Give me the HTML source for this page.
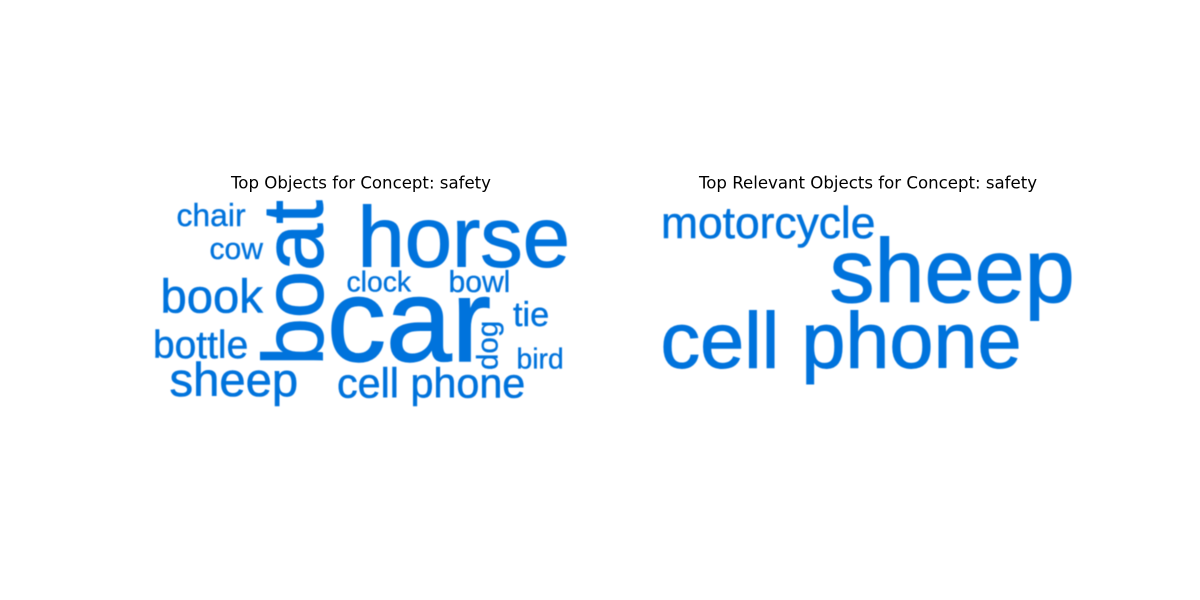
<!DOCTYPE html>
<html lang="en">
<head>
<meta charset="utf-8">
<title>Top Objects for Concept: safety</title>
<style>
html,body{margin:0;padding:0;background:#fff;}
svg{display:block;}
.title{font-family:"DejaVu Sans",sans-serif;font-size:16.6px;fill:#000;text-anchor:middle;}
.word{font-family:"Liberation Sans",sans-serif;fill:#0073dc;stroke:#0073dc;stroke-width:.012em;}
</style>
</head>
<body>
<svg id="chart" width="1200" height="600" viewBox="0 0 1200 600" xmlns="http://www.w3.org/2000/svg">
<text class="title" x="361" y="188.5">Top Objects for Concept: safety</text>
<text class="title" x="868" y="188.5">Top Relevant Objects for Concept: safety</text>
<g id="left-cloud" filter="url(#soft)"></g>
<g id="right-cloud" filter="url(#soft)"></g>
<defs><filter id="soft" x="-5%" y="-5%" width="110%" height="110%"><feGaussianBlur stdDeviation="0.4"/></filter></defs>
</svg>
<script>
const leftWords = ["car","horse","boat","sheep","book","cell phone","bottle","tie","chair","cow","bowl","dog","clock","bird"];
const leftWeights = [1.0,0.72,0.72,0.40,0.40,0.35,0.33,0.29,0.27,0.255,0.255,0.25,0.24,0.24];
const rightWords = ["sheep","cell phone","motorcycle"];
const rightWeights = [1.0,0.88,0.493];

function fontScaleLeft(w){ return w * 118; }
function fontScaleRight(w){ return w * 90; }

function leftAnchor(word){
  switch(word){
    case "car": return {x:327,y:361};
    case "horse": return {x:357.5,y:266.5};
    case "boat": return {x:322.5,y:365.5,rot:true};
    case "sheep": return {x:169.5,y:396};
    case "book": return {x:160.5,y:312.5};
    case "cell phone": return {x:337,y:397.5};
    case "bottle": return {x:153,y:358};
    case "tie": return {x:513,y:326};
    case "chair": return {x:176.5,y:226};
    case "cow": return {x:209.5,y:259};
    case "bowl": return {x:448.5,y:292};
    case "dog": return {x:497.5,y:370,rot:true};
    case "clock": return {x:346.5,y:291.5};
    default: return {x:516.5,y:368.5};
  }
}
function rightAnchor(word){
  switch(word){
    case "sheep": return {x:829.5,y:302};
    case "cell phone": return {x:660.5,y:367.5};
    default: return {x:661,y:238};
  }
}
function drawCloud(groupId, words, weights, scale, anchor){
  const g = document.getElementById(groupId);
  words.forEach(function(word,i){
    const a = anchor(word);
    const t = document.createElementNS("http://www.w3.org/2000/svg","text");
    t.setAttribute("class","word");
    
    
    t.setAttribute("font-size", scale(weights[i]));
    if(a.rot){
      t.setAttribute("transform","translate("+a.x+" "+a.y+") rotate(-90)");
    }else{
      t.setAttribute("x",a.x);
      t.setAttribute("y",a.y);
    }
    t.textContent = word;
    g.appendChild(t);
  });
}
drawCloud("left-cloud", leftWords, leftWeights, fontScaleLeft, leftAnchor);
drawCloud("right-cloud", rightWords, rightWeights, fontScaleRight, rightAnchor);
</script>
</body>
</html>
